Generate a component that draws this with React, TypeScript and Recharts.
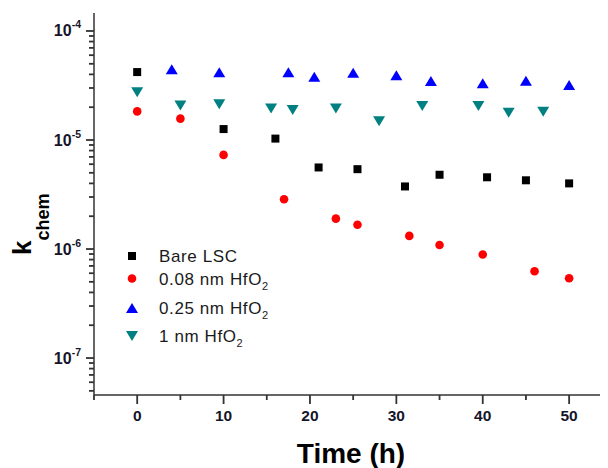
import React from "react";
import { ScatterChart, Scatter, XAxis, YAxis, Customized } from "recharts";

const FONT = "'Liberation Sans', Arial, sans-serif";

const timesBare = [0, 10, 16, 21, 25.5, 31, 35, 40.5, 45, 50];
const kBare = [4.2e-5, 1.26e-5, 1.03e-5, 5.6e-6, 5.4e-6, 3.75e-6, 4.8e-6, 4.55e-6, 4.27e-6, 4.0e-6];

const times008 = [0, 5, 10, 17, 23, 25.5, 31.5, 35, 40, 46, 50];
const k008 = [1.83e-5, 1.57e-5, 7.3e-6, 2.86e-6, 1.9e-6, 1.67e-6, 1.32e-6, 1.09e-6, 8.9e-7, 6.25e-7, 5.4e-7];

const times025 = [4, 9.5, 17.5, 20.5, 25, 30, 34, 40, 45, 50];
const k025 = [4.46e-5, 4.18e-5, 4.18e-5, 3.81e-5, 4.14e-5, 3.92e-5, 3.47e-5, 3.31e-5, 3.5e-5, 3.2e-5];

const times1 = [0, 5, 9.5, 15.5, 18, 23, 28, 33, 39.5, 43, 47];
const k1 = [2.74e-5, 2.07e-5, 2.13e-5, 1.95e-5, 1.88e-5, 1.95e-5, 1.49e-5, 2.05e-5, 2.05e-5, 1.78e-5, 1.82e-5];

const xTicks = [-5, 0, 5, 10, 15, 20, 25, 30, 35, 40, 45, 50];
const xMajor = [0, 10, 20, 30, 40, 50];
const yDecades = [-8, -7, -6, -5, -4];
const yMin = Math.pow(10, -7.339);
const yMax = Math.pow(10, -3.835);

const seriesNames = ["Bare LSC", "0.08 nm HfO", "0.25 nm HfO", "1 nm HfO"];
const seriesSub = ["", "2", "2", "2"];
const seriesColors = ["#000000", "#ff0000", "#0000ff", "#008080"];
const seriesKinds = ["square", "circle", "up", "down"];

const toPts = (xs: number[], ys: number[]) => xs.map((x, i) => ({ x, y: ys[i] }));
const seriesData = [
  toPts(timesBare, kBare),
  toPts(times008, k008),
  toPts(times025, k025),
  toPts(times1, k1),
];

const yTicks: number[] = [];
yDecades.forEach((d) => {
  for (let m = 1; m <= 9; m++) {
    const v = m * Math.pow(10, d);
    if (v >= yMin && v <= yMax) yTicks.push(v);
  }
});

const Marker = ({ kind, cx, cy, color }: any) => {
  if (cx == null || cy == null) return null;
  if (kind === "square") return <rect x={cx - 4} y={cy - 4} width={8} height={8} fill={color} />;
  if (kind === "circle") return <circle cx={cx} cy={cy} r={4.3} fill={color} />;
  if (kind === "up")
    return <path d={`M${cx},${cy - 5} L${cx + 6},${cy + 5} L${cx - 6},${cy + 5} Z`} fill={color} />;
  return <path d={`M${cx - 6},${cy - 5} L${cx + 6},${cy - 5} L${cx},${cy + 5} Z`} fill={color} />;
};

const YTick = (props: any) => {
  const { x, y, payload } = props;
  const v = payload.value;
  const lg = Math.log10(v);
  const e = Math.round(lg);
  const major = Math.abs(lg - e) < 1e-6;
  const len = major ? 8 : 5;
  const ax = Number(x);
  const ay = Number(y);
  return (
    <g>
      <rect x={ax - len} y={ay - 0.9} width={len} height={1.8} fill="#333" />
      {major && (
        <text x={ax - 13} y={ay + 5.5} textAnchor="end" fontFamily={FONT} fontWeight="bold" fontSize={16} fill="#15152a">
          10
          <tspan fontSize={10.5} dy={-8}>{`${e}`}</tspan>
        </text>
      )}
    </g>
  );
};

const XTick = (props: any) => {
  const { x, y, payload } = props;
  const v = payload.value;
  const major = xMajor.includes(v);
  return (
    <g>
      <rect x={Number(x) - 0.9} y={Number(y)} width={1.8} height={major ? 9 : 5} fill="#333" />
      {major && (
        <text x={x} y={y + 26} textAnchor="middle" fontFamily={FONT} fontWeight="bold" fontSize={15.5} fill="#15152a">
          {v}
        </text>
      )}
    </g>
  );
};

const Overlay = () => {
  const rows = [248, 270.5, 300, 328];
  return (
    <g>
      {seriesNames.map((n, i) => (
        <g key={n}>
          <Marker kind={seriesKinds[i]} cx={124} cy={rows[i]} color={seriesColors[i]} />
          <text x={151} y={rows[i] + 6} fontFamily={FONT} fontSize={17} letterSpacing={0.6} fill="#1a1a1a">
            {n}
            {seriesSub[i] && (
              <tspan fontSize={11} dy={5}>
                {seriesSub[i]}
              </tspan>
            )}
          </text>
        </g>
      ))}
      <text x={343} y={455} textAnchor="middle" fontFamily={FONT} fontWeight="bold" fontSize={28} fill="#000">
        Time (h)
      </text>
      <text transform="translate(23,247) rotate(-90)" fontFamily={FONT} fontWeight="bold" fontSize={26} fill="#000">
        k
        <tspan fontSize={18} dy={18}>chem</tspan>
      </text>
    </g>
  );
};

export default function App() {
  return (
    <ScatterChart width={600} height={460} margin={{ top: 5, right: 0, left: 0, bottom: 43 }}>
      <XAxis
        dataKey="x"
        type="number"
        domain={[-5, 54.5]}
        ticks={xTicks}
        allowDataOverflow
        tick={<XTick />}
        tickSize={0}
        tickMargin={0}
        tickLine={false}
        axisLine={{ stroke: "#333", strokeWidth: 1.5 }}
        height={30}
        interval={0}
      />
      <XAxis
        xAxisId="top"
        orientation="top"
        dataKey="x"
        type="number"
        domain={[-5, 54.5]}
        tick={false}
        tickLine={false}
        axisLine={{ stroke: "#333", strokeWidth: 1.5 }}
        height={0}
      />
      <YAxis
        dataKey="y"
        type="number"
        scale="log"
        domain={[yMin, yMax]}
        allowDataOverflow
        ticks={yTicks}
        tick={<YTick />}
        tickSize={0}
        tickMargin={0}
        tickLine={false}
        axisLine={{ stroke: "#333", strokeWidth: 1.5 }}
        width={86}
        interval={0}
      />
      {seriesData.map((d, i) => (
        <Scatter
          key={i}
          data={d}
          isAnimationActive={false}
          shape={(p: any) => <Marker kind={seriesKinds[i]} cx={p.cx} cy={p.cy} color={seriesColors[i]} />}
        />
      ))}
      <Customized component={<Overlay />} />
    </ScatterChart>
  );
}
